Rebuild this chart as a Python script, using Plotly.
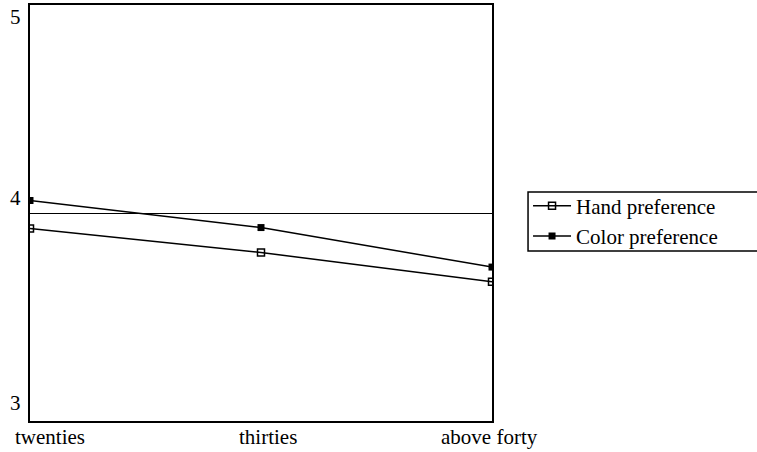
import plotly.graph_objects as go

categories = ["twenties", "thirties", "above forty"]
hand_pref = [3.925, 3.81, 3.67]
color_pref = [4.06, 3.93, 3.74]
y_ticks = [3, 4, 5]

FONT = "Liberation Serif, Times New Roman, serif"
W, H = 757, 452
ML, MR, MT, MB = 30, 265, 5, 31

fig = go.Figure()
fig.add_trace(go.Scatter(
    x=categories, y=hand_pref, name="Hand preference", mode="lines+markers",
    line=dict(color="black", width=1.5),
    marker=dict(symbol="square-open", size=7, color="black", line=dict(width=1.5, color="black")),
))
fig.add_trace(go.Scatter(
    x=categories, y=color_pref, name="Color preference", mode="lines+markers",
    line=dict(color="black", width=1.5),
    marker=dict(symbol="square", size=7, color="black"),
))

fig.update_layout(
    width=W, height=H,
    margin=dict(l=ML, r=MR, t=MT, b=MB, autoexpand=False),
    paper_bgcolor="white", plot_bgcolor="white",
    font=dict(family=FONT, size=21, color="black"),
    showlegend=True,
    legend=dict(
        x=1.078, y=0.566, xanchor="left", yanchor="top",
        bgcolor="rgba(0,0,0,0)", borderwidth=0,
        font=dict(family=FONT, size=21, color="black"),
        tracegroupgap=0, itemwidth=38,
    ),
)
fig.update_xaxes(
    type="category", range=[0, len(categories) - 1],
    showticklabels=False, showgrid=False, zeroline=False,
    showline=True, linecolor="black", linewidth=1.5, mirror=True, ticks="",
)
fig.update_yaxes(
    range=[3, 5], tickvals=y_ticks, showticklabels=False,
    showgrid=True, gridcolor="black", gridwidth=1, zeroline=False,
    showline=True, linecolor="black", linewidth=1.5, mirror=True, ticks="",
)

# Legend frame (extends past the right edge like the original)
fig.add_shape(type="rect", xref="paper", yref="paper",
              x0=1.078, x1=1.7, y0=0.4087, y1=0.5505,
              line=dict(color="black", width=1.5), fillcolor="rgba(0,0,0,0)")

# X category labels
x_anchor = ["left", "center", "center"]
x_shift = [-17, 7, -3]
for c, a, s in zip(categories, x_anchor, x_shift):
    fig.add_annotation(x=c, y=0, xref="x", yref="paper", text=c, showarrow=False,
                       xanchor=a, yanchor="top", xshift=s, yshift=-2,
                       font=dict(family=FONT, size=21, color="black"))

# Y tick labels
y_shift = [18, 15, -12]
for v, s in zip(y_ticks, y_shift):
    fig.add_annotation(x=0, y=v, xref="paper", yref="y", text=str(v), showarrow=False,
                       xanchor="right", yanchor="middle", xshift=-7, yshift=s,
                       font=dict(family=FONT, size=21, color="black"))

fig.write_html("out.html",
               config={"displayModeBar": False},
               post_script="document.body.style.margin='0';document.body.style.overflow='hidden';")
